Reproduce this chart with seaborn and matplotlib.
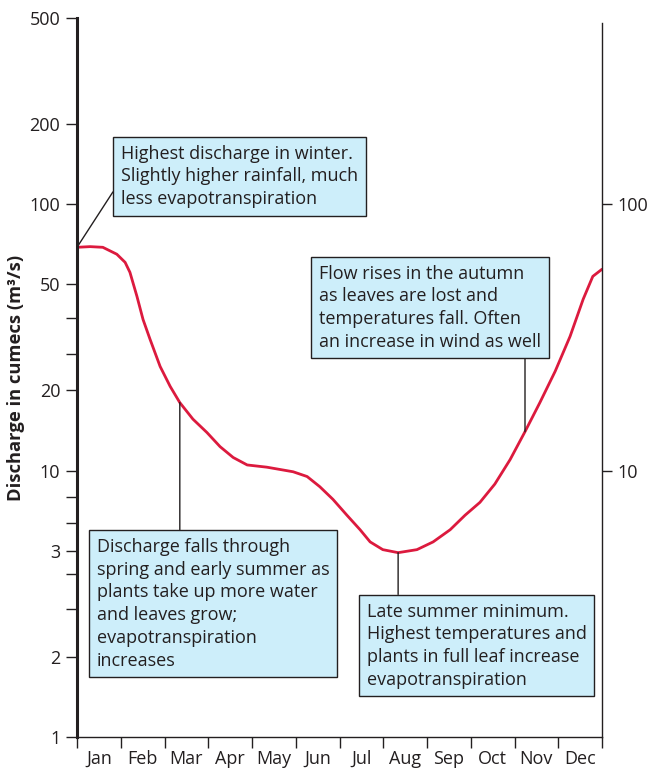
import numpy as np
import pandas as pd
import matplotlib
matplotlib.use("Agg")
import matplotlib.pyplot as plt
from matplotlib.text import Text
from matplotlib.ticker import NullFormatter, NullLocator
import seaborn as sns

# months along the x axis (0 = start of Jan, 12 = end of Dec)
months = ["Jan", "Feb", "Mar", "Apr", "May", "Jun",
          "Jul", "Aug", "Sep", "Oct", "Nov", "Dec"]

# discharge curve
month_pos = [0.00, 0.30, 0.59, 0.91, 1.10, 1.21, 1.37, 1.51, 1.67, 1.90,
             2.13, 2.35, 2.65, 2.97, 3.27, 3.57, 3.89, 4.34, 4.94, 5.26,
             5.55, 5.85, 6.17, 6.47, 6.70, 6.99, 7.34, 7.77, 8.14, 8.53,
             8.87, 9.21, 9.55, 9.90, 10.24, 10.58, 10.93, 11.27, 11.57,
             11.79, 12.00]
discharge = [68.9, 69.3, 68.9, 64.9, 60.5, 55.5, 45.1, 36.9, 31.1, 24.6,
             20.7, 18.0, 15.6, 13.9, 12.3, 11.2, 10.5, 10.3, 9.9, 9.5,
             8.7, 7.8, 6.8, 6.0, 5.4, 5.05, 4.92, 5.05, 5.4, 6.0,
             6.8, 7.6, 8.9, 11.0, 14.0, 18.0, 23.6, 31.9, 44.0,
             53.6, 57.0]

# left axis ticks (the printed labels are as in the source figure)
left_ticks = [500, 200, 100, 50, 20, 10, 5, 2, 1]
left_labels = ["500", "200", "100", "50", "20", "10", "3", "2", "1"]
left_minor = [37.3, 27.5, 7.98, 6.37, 4.10, 3.03]
right_ticks = [100, 10]
right_labels = ["100", "10"]

notes = [
    "Highest discharge in winter.\nSlightly higher rainfall, much\nless evapotranspiration",
    "Flow rises in the autumn\nas leaves are lost and\ntemperatures fall. Often\nan increase in wind as well",
    "Discharge falls through\nspring and early summer as\nplants take up more water\nand leaves grow;\nevapotranspiration\nincreases",
    "Late summer minimum.\nHighest temperatures and\nplants in full leaf increase\nevapotranspiration",
]
# curve point each note points at, and where its text starts (axes fraction)
note_xy = [(0, 68.9), (10.24, 14.0), (2.35, 18.0), (7.34, 4.92)]
note_pos = [(0.0838, 0.824), (0.461, 0.657), (0.038, 0.277), (0.552, 0.187)]

df = pd.DataFrame({"month": month_pos, "discharge": discharge})

sns.set_style("ticks")
plt.rcParams["font.family"] = ["Open Sans", "DejaVu Sans"]
txt = "#231f20"

fig = plt.figure(figsize=(6.52, 7.83), dpi=100)
ax = fig.add_axes([77 / 652, 46 / 783, 525 / 652, 719 / 783])

sns.lineplot(data=df, x="month", y="discharge", ax=ax, color="#dc1a3e",
             lw=2.0, sort=False, solid_joinstyle="round",
             solid_capstyle="round")

ax.set_yscale("log")
ax.set_ylim(1, 500)
ax.set_xlim(0, 12)
ax.set_yticks(left_ticks)
ax.set_yticklabels(left_labels)
ax.set_yticks(left_minor, minor=True)
ax.yaxis.set_minor_formatter(NullFormatter())
ax.tick_params(axis="y", which="both", length=8, width=1, color=txt,
               labelsize=13, labelcolor=txt, pad=4)

ax.set_xticks(np.arange(0, 13))
ax.set_xticklabels([""] * 13)
ax.set_xticks(np.arange(12) + 0.5, minor=True)
ax.set_xticklabels(months, minor=True)
ax.tick_params(axis="x", which="major", length=8, width=1, color=txt)
ax.tick_params(axis="x", which="minor", length=0, labelsize=13,
               labelcolor=txt, pad=9)

ax.set_xlabel("")
ax.set_ylabel("Discharge in cumecs (m³/s)", fontsize=13.2, fontweight="bold",
              color=txt, labelpad=3)

for s in ["top", "right"]:
    ax.spines[s].set_visible(False)
ax.spines["left"].set_linewidth(2.2)
ax.spines["left"].set_color(txt)
ax.spines["bottom"].set_linewidth(1)
ax.spines["bottom"].set_color(txt)

ax2 = ax.twinx()
ax2.set_yscale("log")
ax2.set_ylim(1, 500)
ax2.set_yticks(right_ticks)
ax2.set_yticklabels(right_labels)
ax2.yaxis.set_minor_locator(NullLocator())
ax2.tick_params(axis="y", length=7, width=1, color=txt, labelsize=13,
                labelcolor=txt, pad=4)
for s in ["top", "left", "bottom"]:
    ax2.spines[s].set_visible(False)
ax2.spines["right"].set_bounds(1, 479)
ax2.spines["right"].set_linewidth(1)
ax2.spines["right"].set_color(txt)

box = dict(boxstyle="square,pad=0.42", fc="#cdeefa", ec=txt, lw=1)
anns = []
for note, xy, pos in zip(notes, note_xy, note_pos):
    a = ax.annotate(note, xy=xy, xytext=pos, textcoords="axes fraction",
                    ha="left", va="top", fontsize=13, color=txt,
                    linespacing=1.34, bbox=box,
                    arrowprops=dict(arrowstyle="-", color=txt, lw=1,
                                    shrinkA=0, shrinkB=0))
    anns.append(a)

# leaders: first one leaves the left side of its box, the rest run vertically
fig.canvas.draw()
renderer = fig.canvas.get_renderer()
for i, a in enumerate(anns):
    bb = Text.get_window_extent(a, renderer)
    px, py = ax.transData.transform(a.xy)
    if i == 0:
        a._arrow_relpos = (0, 0.45)
    elif py < bb.y0:
        a._arrow_relpos = ((px - bb.x0) / bb.width, 0)
    else:
        a._arrow_relpos = ((px - bb.x0) / bb.width, 1)

fig.savefig("out.png", dpi=100)
